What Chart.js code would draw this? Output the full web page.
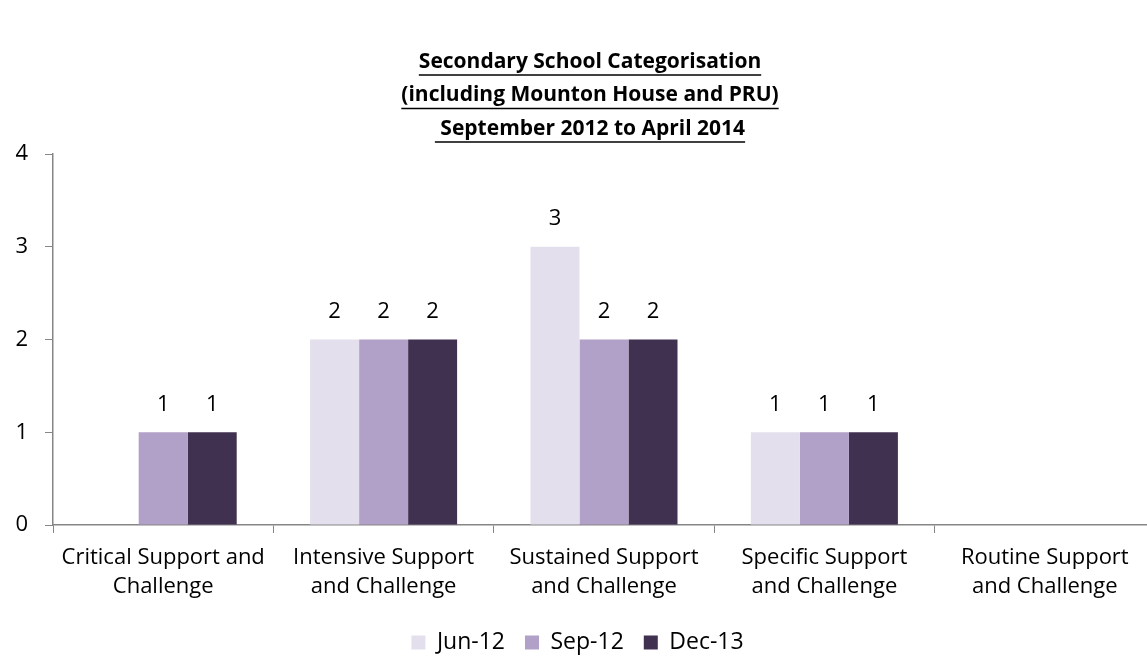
<!DOCTYPE html>
<html>
<head>
<meta charset="utf-8">
<script src="https://cdn.jsdelivr.net/npm/chart.js@4"></script>
<style>
  html, body { margin: 0; padding: 0; background: #fff; overflow: hidden; }
  #wrap { width: 1175px; height: 664px; }
</style>
</head>
<body>
<div id="wrap"><canvas id="school-chart"></canvas></div>
<script>
const categories = [
	['Critical Support and', 'Challenge'],
	['Intensive Support', 'and Challenge'],
	['Sustained Support', 'and Challenge'],
	['Specific Support', 'and Challenge'],
	['Routine Support', 'and Challenge'],
];
const seriesNames = ['Jun-12', 'Sep-12', 'Dec-13'];
const jun12 = [0, 2, 3, 1, 0];
const sep12 = [1, 2, 2, 1, 0];
const dec13 = [1, 2, 2, 1, 0];
const yTicks = [0, 1, 2, 3, 4];
const titleLines = ['Secondary School Categorisation', '(including Mounton House and PRU)', ' September 2012 to April 2014'];

const colors = ['#E4DFEC', '#B1A0C7', '#403151'];
const FONT = '"Open Sans", Calibri, sans-serif';
const axisGrey = '#868686';

// title with underline, drawn by hand since chart.js has no underline
const underlineTitle = {
	id: 'underlineTitle',
	afterDraw(chart) {
		const c = chart.ctx;
		c.save();
		c.font = 'bold 21px ' + FONT;
		c.fillStyle = '#000';
		c.strokeStyle = '#000';
		c.lineWidth = 1.5;
		c.textAlign = 'center';
		c.textBaseline = 'middle';
		const cx = 590;
		titleLines.forEach((line, i) => {
			const y = 62 + i * 33.5;
			c.fillText(line, cx, y);
			const w = c.measureText(line).width;
			c.beginPath();
			c.moveTo(cx - w / 2, y + 13);
			c.lineTo(cx + w / 2, y + 13);
			c.stroke();
		});
		c.restore();
	}
};

// value labels above bars, zeros left out
const valueLabels = {
	id: 'valueLabels',
	afterDatasetsDraw(chart) {
		const c = chart.ctx;
		c.save();
		c.font = '22px ' + FONT;
		c.fillStyle = '#000';
		c.textAlign = 'center';
		c.textBaseline = 'middle';
		chart.data.datasets.forEach((ds, di) => {
			chart.getDatasetMeta(di).data.forEach((bar, i) => {
				const v = ds.data[i];
				if (!v) return;
				c.fillText(String(v), bar.x, bar.y - 28);
			});
		});
		c.restore();
	}
};

const chartData = {
	labels: categories,
	datasets: [
		{ label: seriesNames[0], data: jun12, backgroundColor: colors[0] },
		{ label: seriesNames[1], data: sep12, backgroundColor: colors[1] },
		{ label: seriesNames[2], data: dec13, backgroundColor: colors[2] },
	],
};

const options = {
	responsive: true,
	maintainAspectRatio: false,
	animation: false,
	layout: { padding: { top: 154, right: 20, left: 0, bottom: 0 } },
	datasets: { bar: { categoryPercentage: 0.667, barPercentage: 1.0 } },
	plugins: {
		title: { display: false },
		tooltip: { enabled: false },
		legend: {
			position: 'bottom',
			labels: {
				font: { family: FONT, size: 23 },
				color: '#000',
				boxWidth: 14,
				boxHeight: 14,
				padding: 20,
				useBorderRadius: false,
			},
		},
	},
	scales: {
		x: {
			afterFit(scale) { scale.height = 86; },
			grid: { display: true, drawOnChartArea: false, drawTicks: true, tickLength: 8, color: axisGrey, offset: true },
			border: { display: true, color: axisGrey, width: 1.5 },
			ticks: { font: { family: FONT, size: 22, lineHeight: 1.32 }, color: '#000', padding: 10, maxRotation: 0, autoSkip: false },
		},
		y: {
			min: 0,
			max: 4,
			afterFit(scale) { scale.width = 53; },
			afterBuildTicks(scale) { scale.ticks = yTicks.map(v => ({ value: v })); },
			grid: { display: true, drawOnChartArea: false, drawTicks: true, tickLength: 8, color: axisGrey },
			border: { display: true, color: axisGrey, width: 1.5 },
			ticks: { font: { family: FONT, size: 22 }, color: '#000', padding: 17 },
		},
	},
};

new Chart(document.getElementById('school-chart').getContext('2d'), {
	type: 'bar',
	data: chartData,
	options: options,
	plugins: [underlineTitle, valueLabels],
});
</script>
</body>
</html>
